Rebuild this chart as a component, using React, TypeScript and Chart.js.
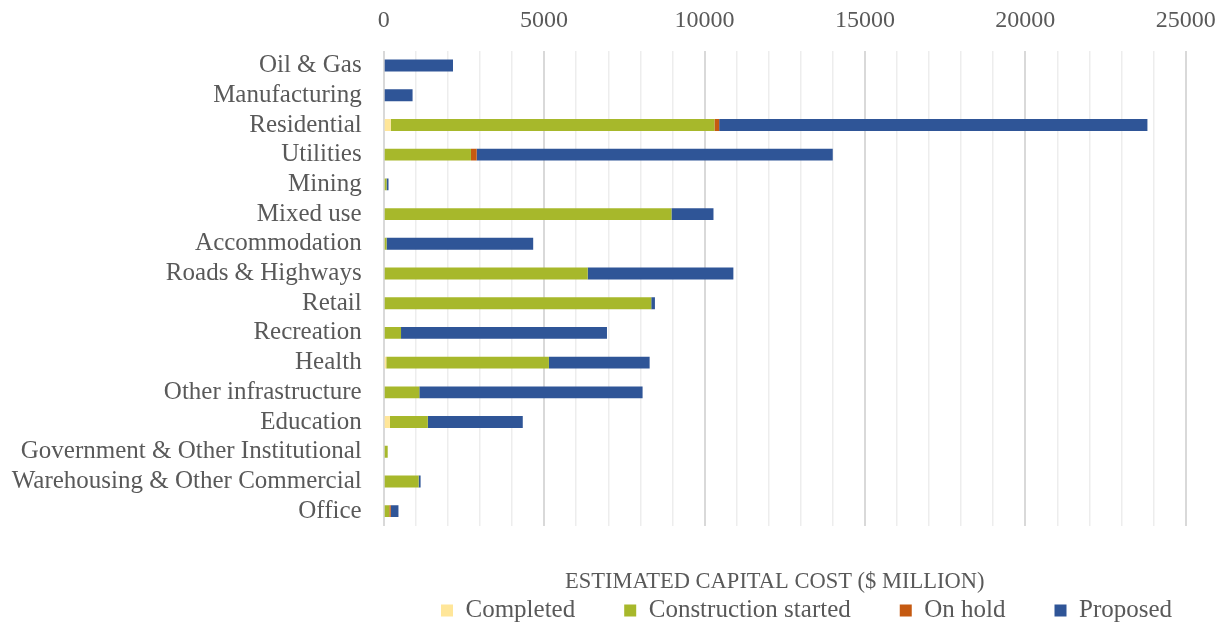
import React, { useEffect, useRef } from 'react';
import { Chart, registerables } from 'chart.js';

Chart.register(...registerables);

const categories = [
  'Oil & Gas',
  'Manufacturing',
  'Residential',
  'Utilities',
  'Mining',
  'Mixed use',
  'Accommodation',
  'Roads & Highways',
  'Retail',
  'Recreation',
  'Health',
  'Other infrastructure',
  'Education',
  'Government & Other Institutional',
  'Warehousing & Other Commercial',
  'Office',
];

const completed = [0, 0, 220, 0, 0, 0, 0, 0, 0, 0, 80, 0, 195, 0, 0, 0];
const constructionStarted = [0, 0, 10090, 2720, 90, 8970, 90, 6360, 8340, 540, 5070, 1110, 1180, 125, 1090, 175];
const onHold = [0, 0, 147, 178, 0, 0, 0, 0, 0, 0, 0, 0, 0, 0, 0, 45];
const proposed = [2160, 900, 13350, 11100, 60, 1310, 4570, 4540, 115, 6420, 3140, 6960, 2960, 0, 60, 240];

const seriesNames = ['Completed', 'Construction started', 'On hold', 'Proposed'];
const seriesColors = ['#FFE699', '#A7B82B', '#C55A11', '#2F5597'];

const axisMax = 25000;
const gridStep = 1000;
const labelStep = 5000;
const axisTitle = 'ESTIMATED CAPITAL COST ($ MILLION)';

const FONT = '"Liberation Serif", "Times New Roman", serif';
const TEXT = '#595959';

const LEGEND_PAD = 49;

const blockShift = {
  id: 'blockShift',
  afterLayout(chart: any) {
    const lg = chart.legend;
    if (lg) {
      const w = lg.right - lg.left;
      lg.left = chart.chartArea.left + 57.3 - LEGEND_PAD;
      lg.right = lg.left + w;
    }
    const tb = chart.titleBlock;
    if (tb) {
      tb.left -= 10;
      tb.right -= 10;
    }
  },
};

export default function App() {
  const ref = useRef<HTMLCanvasElement>(null);

  useEffect(() => {
    if (!ref.current) return;
    const values = [completed, constructionStarted, onHold, proposed];
    const chart = new Chart(ref.current, {
      type: 'bar',
      data: {
        labels: categories,
        datasets: seriesNames.map((name, i) => ({
          label: name,
          data: values[i],
          backgroundColor: seriesColors[i],
          borderWidth: 0,
          barPercentage: 0.4,
          categoryPercentage: 1,
        })),
      },
      options: {
        indexAxis: 'y',
        responsive: false,
        animation: false,
        layout: { padding: { left: 0, right: 32.3, top: 0, bottom: 0 } },
        scales: {
          x: {
            position: 'top',
            stacked: true,
            min: 0,
            max: axisMax,
            border: { display: false },
            grid: {
              drawTicks: false,
              color: (c: any) => (c.tick && c.tick.value % labelStep === 0 ? '#d9d9d9' : '#ededed'),
              lineWidth: (c: any) => (c.tick && c.tick.value % labelStep === 0 ? 2 : 1.5),
            },
            ticks: {
              stepSize: gridStep,
              maxTicksLimit: 40,
              autoSkip: false,
              maxRotation: 0,
              minRotation: 0,
              padding: 16,
              color: TEXT,
              font: { family: FONT, size: 24 },
              callback: (v: any) => (Number(v) % labelStep === 0 ? String(v) : ''),
            },
            afterFit: (s: any) => {
              s.height = 42.7;
              s.paddingLeft = 0;
              s.paddingRight = 0;
            },
          },
          y: {
            stacked: true,
            border: { display: false },
            grid: { display: false, drawTicks: false },
            ticks: {
              autoSkip: false,
              padding: 22,
              color: TEXT,
              font: { family: FONT, size: 25 },
            },
            afterFit: (s: any) => {
              s.width = 375.7;
            },
          },
        },
        plugins: {
          tooltip: { enabled: false },
          title: {
            display: true,
            text: axisTitle,
            position: 'bottom',
            fullSize: false,
            weight: 500,
            color: TEXT,
            font: { family: FONT, size: 22.5, weight: 'normal' },
            padding: { top: 42.5, bottom: -46.5 },
          },
          legend: {
            display: true,
            position: 'bottom',
            align: 'start',
            fullSize: true,
            labels: {
              boxWidth: 12,
              boxHeight: 12,
              padding: LEGEND_PAD,
              color: TEXT,
              font: { family: FONT, size: 25 },
            },
          },
        },
      } as any,
      plugins: [blockShift],
    });
    return () => chart.destroy();
  }, []);

  return (
    <div style={{ position: 'fixed', left: 8, top: 8, width: 1210, height: 625 }}>
      <canvas ref={ref} width={1210} height={625} style={{ display: 'block' }} />
    </div>
  );
}
